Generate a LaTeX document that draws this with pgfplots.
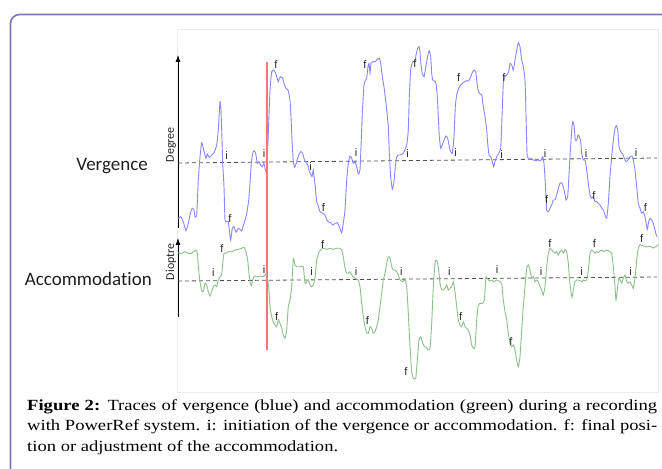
\documentclass[border=0pt]{standalone}
\usepackage{fontspec}
\usepackage{pgfplots}
\pgfplotsset{compat=1.18}
\usetikzlibrary{arrows.meta}
\newfontfamily\capfont[FakeStretch=1.2]{Liberation Serif}
\newfontfamily\labfont[Ligatures=NoCommon]{Carlito}
\newfontfamily\mkfont{Liberation Sans}
\definecolor{vblue}{RGB}{135,135,255}
\definecolor{agreen}{RGB}{140,192,140}
\definecolor{redl}{RGB}{240,120,120}
\definecolor{framec}{RGB}{125,118,185}
\definecolor{boxc}{RGB}{236,236,236}
\definecolor{dashc}{RGB}{80,80,80}
\tikzset{lbl/.style={font=\mkfont\fontsize{11}{13}\selectfont, text=black!85, inner sep=0pt}}
\begin{document}
\begin{tikzpicture}[x=1pt,y=1pt]
\useasboundingbox (0,0) rectangle (662,469);
\clip (0,0) rectangle (662,469);
\fill[white] (0,0) rectangle (662,469);
\draw[framec, line width=1.6pt, rounded corners=9pt] (10.5,-30) -- (10.5,454.5) -- (700,454.5);
\draw[boxc, line width=0.8pt, fill=white] (177,77) rectangle (658,440);
\node[font=\labfont\fontsize{19}{22}\selectfont, anchor=base east, inner sep=0pt, text=black!88] at (148,298.3) {Vergence};
\node[font=\labfont\fontsize{19}{22}\selectfont, anchor=base east, inner sep=0pt, text=black!88] at (152,183) {Accommodation};
\node[anchor=base west, text width=630pt, align=justify, inner sep=0pt, font=\capfont\fontsize{15.5}{20.5}\selectfont] at (27,58.5)
{\textbf{Figure 2:} Traces of vergence (blue) and accommodation (green) during a recording\linebreak with PowerRef system. i: initiation of the vergence or accommodation. f: final posi-\linebreak tion or adjustment of the accommodation.};

% ---------------- Vergence ----------------
\begin{axis}[at={(178pt,241pt)}, anchor=south west, scale only axis,
  width=479pt, height=173pt, xmin=0, xmax=479, ymin=-65, ymax=108,
  axis x line=none, axis y line*=left, ytick=\empty, clip=false,
  y axis line style={line width=0.8pt, -{Latex[length=7pt,width=5pt]}}]
\addplot[dashc, line width=0.8pt, dash pattern=on 4pt off 3pt] coordinates {(0,0) (479,5)};
\addplot[vblue, line width=0.9pt, smooth, tension=0.3] coordinates {
(0.3,-55.3)(2.7,-53.7)(5.3,-58.7)(8,-67.7)(10.3,-60.3)(12.7,-48.7)(14.3,-45.3)(16,-47)(17,-53.7)(18.7,-52)
(20.3,-17)(22,6.3)(23.7,20.3)(25.3,14.7)(28,4.7)(29.3,9)(31.3,5.7)(33.7,8)(36,10.3)(38.7,18)(40.3,33)(42,61.3)
(43,53)(44,23)(44.7,-0.3)(46,-23.7)(47,-57)(48.7,-58.7)(50.3,-58.7)(51.3,-67)(52.7,-77)(54.3,-65.3)(56,-63.7)
(58,-69.3)(60.3,-65.3)(62,-66.3)(63.7,-68)(66,-60.3)(68,-53.7)(69.3,-47)(70.7,-37)(72,-20.3)(73.3,-0.3)(74.7,9.7)
(76,12.3)(77.7,9.7)(79.3,-0.3)(81,1.3)(82.7,-2)(84.3,-3.7)(86,-0.3)(87.3,-6.3)(88.7,-8.7)(90.3,29.7)(92,73)
(93.7,91.3)(95.3,93)(97,91.3)(98.7,86.3)(100.3,81.3)(101.3,84.7)(102.7,86.3)(104.7,84.7)(106,79.7)(108,74.7)
(110.3,72.3)(112,63)(113,46.3)(114,23)(115.3,1.3)(116.7,-4.3)(118.7,1.3)(120.7,8)(122.7,11.3)(124.7,9.7)(126,4.7)
(127.3,1.3)(128.7,0.3)(130.3,-3.7)(131.3,-8.7)(132.7,-11)(134,-13.7)(135.3,-7)(136.3,-15.3)(137.3,-23.7)(138.7,-38.7)
(140,-42)(142,-48.7)(144.7,-50.3)(147,-52)(148.7,-57)(150.3,-58.7)(152.7,-59.7)(154.7,-62)(157,-60.3)(159.3,-59.7)
(161.3,-63.7)(163.7,-69.7)(165.3,-60.3)(167,-47)(168.7,-17)(170.3,-0.3)(172,7)(173.7,4.7)(175.3,-0.3)(177,1.3)
(178.7,-3.7)(180.3,-11)(182,-7)(183,16.3)(184.3,49.7)(186,78)(187.7,83)(188.7,84.7)(190,96.3)(191,99.7)(192,89.7)
(193,99.7)(194.7,101.3)(197,101.3)(199.3,103.7)(201.3,104.7)(202.7,99.7)(204.3,86.3)(206,76.3)(208,59.7)(210.3,36.3)
(211.3,9.7)(212.7,-13.7)(214.3,-26.3)(216,-18.7)(217.3,-3.7)(218.7,6.3)(220.3,8)(222,8)(225.3,9.7)(228.7,18)
(230.3,33)(231.3,66.3)(232.7,93)(234.7,101.3)(237,101.3)(238,108)(239.7,114.7)(241,116.3)(242,111.3)(243,98)
(244.3,89.7)(246,86.3)(247.3,93)(248.7,101.3)(250.3,109.7)(251.3,112.3)(252.7,106.3)(253.7,89.7)(254.7,83)(256.3,82)
(258,79.7)(259.3,66.3)(260.3,46.3)(261.3,26.3)(262.7,14.7)(264.3,18)(266,23)(268,27)(269.7,24.7)(271.3,16.3)
(272.7,11.3)(274.3,9.7)(276,26.3)(277.3,56.3)(278.7,68)(280.7,74.7)(282.7,78)(284.7,79.7)(286.7,81.3)(288.7,82.3)
(290.7,82)(292.7,86.3)(294.7,91.3)(296.3,93)(297.7,91.3)(298.7,83)(300,73)(301.3,69.7)(303.7,68)(305.3,56.3)
(307,46.3)(308.7,33)(309.7,19.7)(311,8)(312.7,6.3)(314.3,1.3)(315.7,-3.7)(317,1.3)(318.7,6.3)(320.7,9.7)(322.7,14.7)
(324,46.3)(325.3,79.7)(326.7,86.3)(328.7,88)(330.7,91.3)(332,99.7)(333.7,98)(335.3,93)(337,103)(338.7,113)
(340.3,120.3)(342,116.3)(343.7,103)(345.3,96.3)(347,83)(348,49.7)(349,9.7)(350.3,4.7)(352.7,4.7)(355.3,3)
(357.7,2.3)(360.3,3)(362.7,2)(364.7,6.3)(366,-0.3)(367.3,-20.3)(368.7,-47)(370.3,-48.7)(372,-45.3)(373.7,-42)
(375.3,-37)(377,-37)(378.7,-32)(380.3,-25.3)(382,-20.3)(383.7,-19.7)(385.3,-23.7)(386.7,-30.3)(388,-37)(389.7,-33.7)
(390.7,-17)(392,6.3)(393.7,33)(394.7,41.3)(396,38)(397.3,23)(398.7,23)(400,28)(401.3,26.3)(402.7,21.3)(403.7,9.7)
(405.3,3)(407,3)(408.7,-7)(410.3,-20.3)(412,-32)(413.7,-35.3)(415.3,-33.7)(417,-38.7)(418.7,-38.7)(420.3,-40.3)
(422,-42)(423.7,-45.3)(425.3,-47)(427,-52)(428.7,-55.3)(430.3,-40.3)(432,-13.7)(433.7,6.3)(435.3,23)(437,34.7)
(438.3,37.3)(439.7,33)(441,16.3)(442.7,11.3)(444.7,9)(446.3,4.7)(448,1.3)(450,3)(452,6.3)(454,7)(455.3,3)(457,-7)
(458.7,-23.7)(460.3,-40.3)(462,-45.3)(463.7,-50.3)(465.3,-48.7)(467,-53.7)(468.7,-63.7)(469.3,-66.3)(470.7,-58.7)
(472,-55.3)(473.7,-57)(475.3,-60.3)(477,-67)(478.7,-73.7)};
\addplot[redl, line width=1.2pt] coordinates {(89,101) (89,-187)};
\node[lbl] at (axis cs:-7,18.3) [rotate=90] {\labfont\fontsize{12}{14}\selectfont Degree};
\node[lbl] at (axis cs:48.7,7) {i};
\node[lbl] at (axis cs:86,9.7) {i};
\node[lbl] at (axis cs:98,98) {f};
\node[lbl] at (axis cs:52,-55.3) {f};
\node[lbl] at (axis cs:132.7,-3.7) {i};
\node[lbl] at (axis cs:145.3,-44.7) {f};
\node[lbl] at (axis cs:178,10.3) {i};
\node[lbl] at (axis cs:187,98) {f};
\node[lbl] at (axis cs:229.7,9) {i};
\node[lbl] at (axis cs:237,99) {f};
\node[lbl] at (axis cs:277.7,10.3) {i};
\node[lbl] at (axis cs:280.7,85.3) {f};
\node[lbl] at (axis cs:323.7,8.7) {i};
\node[lbl] at (axis cs:326,85.3) {f};
\node[lbl] at (axis cs:367,9) {i};
\node[lbl] at (axis cs:368.7,-37) {f};
\node[lbl] at (axis cs:408,9.7) {i};
\node[lbl] at (axis cs:416,-33) {f};
\node[lbl] at (axis cs:458,10.7) {i};
\node[lbl] at (axis cs:467.3,-44.7) {f};
\end{axis}

% ---------------- Accommodation ----------------
\begin{axis}[at={(178pt,152pt)}, anchor=south west, scale only axis,
  width=479pt, height=79pt, xmin=0, xmax=479, ymin=-36, ymax=43,
  axis x line=none, axis y line*=left, ytick=\empty, clip=false,
  y axis line style={line width=0.8pt, -{Latex[length=7pt,width=5pt]}}]
\addplot[dashc, line width=0.8pt, dash pattern=on 4pt off 3pt] coordinates {(0,0) (479,4)};
\addplot[agreen, line width=0.9pt, smooth, tension=0.3] coordinates {
(0.3,28.3)(3.7,27.7)(7,29.3)(10.3,27.7)(13.7,27.7)(15.3,29.3)(18,31)(19.3,27.7)(20.7,11)(22,-0.7)(23.7,-9.7)
(25.3,-10.7)(27,-2.3)(28.7,-4)(30.3,-10.7)(32,-15)(33.7,-10.7)(35.3,-5.7)(37,-4)(38.7,-5.7)(40.3,1)(42,4.3)(43.7,6)
(44.7,17.7)(46,27.7)(48,27.7)(50.3,29.3)(53.7,29.3)(57,31)(60.3,31.7)(63.7,32.7)(66,33.7)(68,29.3)(69.7,21)(71,7.7)
(72,-0.7)(73.3,-4.7)(74.7,1)(76.3,5)(78.7,4.3)(82,5)(85.3,4.3)(88,7)(89.3,4.3)(90.7,-5.7)(92,-25.7)(93.7,-35.7)
(95.3,-40.7)(97,-44)(98.7,-45.7)(100.3,-39)(102,-42.3)(103.7,-47.3)(105.3,-54)(107,-57.3)(108.7,-49)(110.3,-25.7)
(112,-19)(113.7,-5.7)(115.3,22.7)(117,16)(118.7,14.3)(122,14.3)(125.3,14.3)(127,-2.3)(128.7,-0.7)(130.3,1)(132,-4)
(133.7,-5.7)(135.3,-4)(137,2.7)(138.7,21)(141.3,29.3)(144.7,32.7)(148.7,31.7)(152,32.7)(155.3,31.7)(158.7,32.7)
(162,32.7)(163.7,31)(165.3,24.3)(167,12.7)(168.7,7.7)(170.3,7.7)(172,9.3)(173.7,6)(175.3,4.3)(177,2.7)(178.7,1.7)
(180.3,1)(182,-5.7)(183.7,-22.3)(185.3,-35.7)(187,-45.7)(188.7,-52.3)(190.3,-52.3)(192,-45.7)(193.7,-47.3)
(195.3,-52.3)(197,-50.7)(198.7,-45.7)(200.3,-39)(202,-25.7)(203.7,-12.3)(205.3,1)(207,7.7)(208.7,17.7)(210.3,24.3)
(212,22.7)(213.7,14.3)(215.3,11)(217,11)(218.7,9.3)(220.3,6)(222,1)(224.7,-0.7)(227,1)(228.7,-5.7)(230.3,-32.3)
(232,-65.7)(233.7,-90.7)(235.3,-97.3)(237.7,-97.3)(239.3,-79)(241,-59)(242.7,-55.7)(244.3,-60.7)(246,-65)(248,-66.3)
(250.3,-69)(252,-67.3)(253.7,-42.3)(255.3,-5.7)(257,17.7)(258,21)(259.3,19.3)(260.7,11)(262,-2.3)(263.7,-9)
(265.3,-9)(267,-7.3)(268.7,-4)(270.3,-9)(272,-7.3)(273.7,-5.7)(275.3,-0.7)(277,-10.7)(278.7,-25.7)(280.3,-39)
(282,-44)(283.7,-45.7)(285.3,-40.7)(287,-45.7)(288.7,-47.3)(290.3,-49)(292,-54)(293.7,-64)(295.3,-67.3)(297,-65.7)
(298.7,-39)(300.3,-24)(302,-22.3)(304.7,-22.3)(306.3,-19)(307.3,-5.7)(308,4.3)(309.3,2.7)(311.3,0.3)(313.7,1)
(316,-0.7)(318.7,1)(322,-0.7)(323.7,-2.3)(325.3,-19)(327,-30.7)(328.7,-39)(330.3,-52.3)(332,-62.3)(333.7,-65.7)
(335.3,-64)(337,-69)(338.7,-79)(340.3,-85.7)(342,-75.7)(343.7,-49)(345.3,-25.7)(347,-5.7)(348.7,12.7)(350.3,16)
(352,11)(353.7,2.7)(355.3,4.3)(357,-0.7)(358.7,1)(360.3,-0.7)(362,-5.7)(363.7,-9)(365.3,-14)(367,-5.7)(368.7,14.3)
(370.3,27.7)(372,32.7)(373.7,31)(375.3,29.3)(377,27.7)(378.7,29.3)(380.3,26)(382,29.3)(383.7,31)(385.3,27.7)
(387,31.7)(388.7,29.3)(390.3,17.7)(391.3,4.3)(392.7,-9)(394,-16.3)(395.3,-9)(397,-0.7)(398.7,1)(400.3,1)(402,0.3)
(403.7,-0.7)(405.3,1)(407,0.3)(408.7,1)(410.3,11)(412,27.7)(413.7,31)(415.3,29.3)(417,27.7)(418.7,29.3)(420.3,28.3)
(422,30)(423.7,31)(425.3,29.3)(428.7,31)(432,29.3)(433.7,27.7)(435.3,14.3)(437,-5.7)(438,-19)(439.3,-9)(440.7,2.7)
(442,1)(443.7,-2.3)(445.3,2.7)(447,6)(448.7,-0.7)(450.3,-2.3)(452,-0.7)(453.7,-4)(455.3,-7.3)(457,2.7)(458.7,21)
(460.3,32.7)(462,36.3)(465.3,35)(468.7,34)(472,34.7)(475.3,33)(478.7,35)(480.3,36.3)};
\node[lbl] at (axis cs:-7,19.3) [rotate=90] {\labfont\fontsize{12}{14}\selectfont Dioptre};
\node[lbl] at (axis cs:35.3,8.3) {i};
\node[lbl] at (axis cs:44,32.7) {f};
\node[lbl] at (axis cs:86,11) {i};
\node[lbl] at (axis cs:98.7,-35.7) {f};
\node[lbl] at (axis cs:133.7,9.3) {i};
\node[lbl] at (axis cs:144.7,36) {f};
\node[lbl] at (axis cs:178,9.3) {i};
\node[lbl] at (axis cs:189.3,-39.7) {f};
\node[lbl] at (axis cs:223.3,9.3) {i};
\node[lbl] at (axis cs:228,-90.7) {f};
\node[lbl] at (axis cs:271.3,9.3) {i};
\node[lbl] at (axis cs:282.7,-35.7) {f};
\node[lbl] at (axis cs:319,11) {i};
\node[lbl] at (axis cs:333,-60.7) {f};
\node[lbl] at (axis cs:363,9.3) {i};
\node[lbl] at (axis cs:372,37) {f};
\node[lbl] at (axis cs:403.7,9.3) {i};
\node[lbl] at (axis cs:416.3,37) {f};
\node[lbl] at (axis cs:452.7,9.3) {i};
\node[lbl] at (axis cs:463.7,42.7) {f};
\end{axis}
\end{tikzpicture}
\end{document}
